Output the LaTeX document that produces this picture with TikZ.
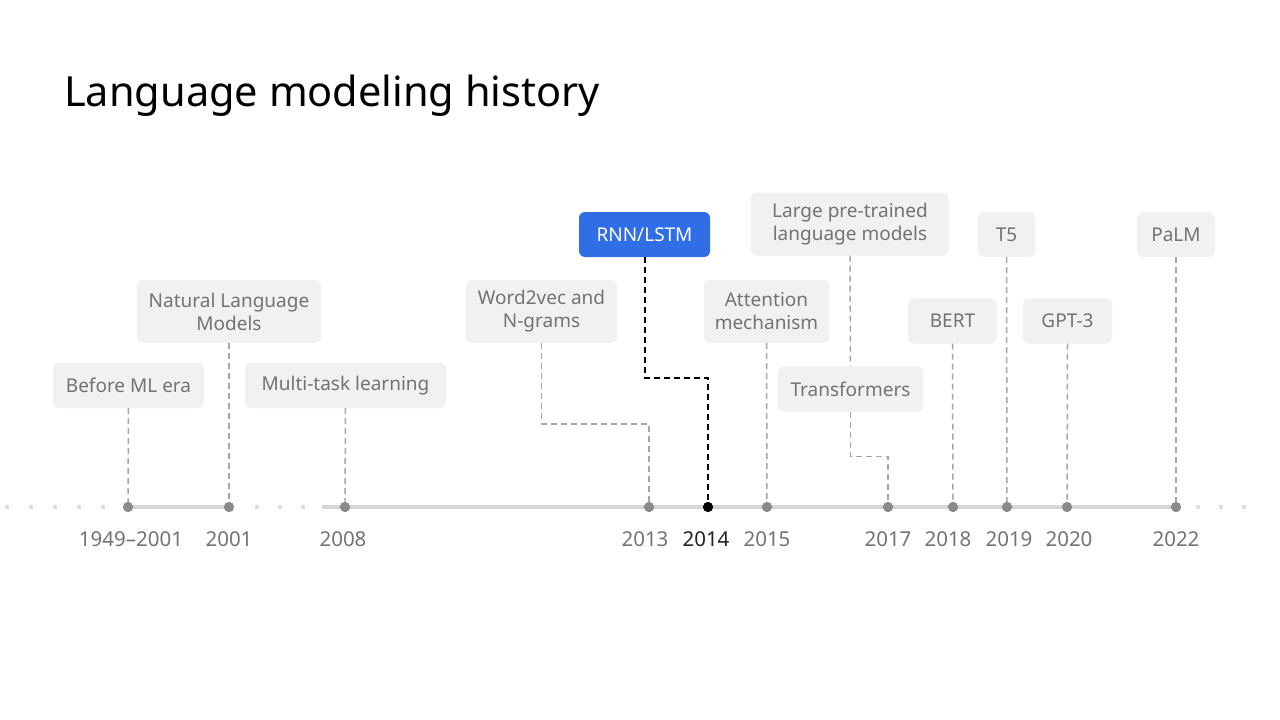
\documentclass[tikz,border=0pt]{standalone}
\usepackage{fontspec}
\setmainfont{Noto Sans}
\definecolor{boxgray}{HTML}{F0F1F3}
\definecolor{labelgray}{HTML}{737373}
\definecolor{axisgray}{HTML}{D6D6D6}
\definecolor{dotgray}{HTML}{8A8A8A}
\definecolor{dashgray}{HTML}{A6A6A6}
\definecolor{rnnblue}{HTML}{2F6EE6}
\definecolor{darktext}{HTML}{202124}
\tikzset{
  evbox/.style={fill=boxgray, rounded corners=6pt, text=labelgray, align=center,
    font=\fontsize{19}{23}\selectfont, inner sep=0pt, minimum height=45pt},
  tallbox/.style={evbox, minimum height=63pt},
  hotbox/.style={evbox, fill=rnnblue, text=white},
  yeardot/.style={circle, fill=dotgray, inner sep=0pt, minimum size=10pt},
  hotdot/.style={yeardot, fill=black},
  yearlabel/.style={text=labelgray, font=\fontsize{20.5}{24}\selectfont, inner sep=0pt},
  hotyear/.style={yearlabel, text=darktext},
  link/.style={draw=dashgray, line width=1.5pt, dash pattern=on 6pt off 4pt},
  hotlink/.style={draw=black, line width=2pt, dash pattern=on 6pt off 4pt},
  axisline/.style={draw=axisgray, line width=4pt}
}
\begin{document}
\begin{tikzpicture}[x=1pt,y=-1pt]
\useasboundingbox[fill=white] (0,0) rectangle (1280,720);
% title
\node[anchor=base west, inner sep=0pt, text=black, font=\fontsize{41.5}{48}\selectfont] (title) at (64,106) {Language modeling history};
% dotted gaps
\foreach \x in {7,31,55,79,103,257,280,303,1198,1221,1244}
  \fill[axisgray!80] (\x-2.3,504.7) rectangle (\x+2.3,509.3);
% axis solid parts
\draw[axisline] (128,507) -- (229,507);
\draw[axisline] (322,507) -- (1176,507);
% dots
\node[yeardot] (d1) at (128,507) {};
\node[yeardot] (d2) at (229,507) {};
\node[yeardot] (d3) at (345,507) {};
\node[yeardot] (d4) at (649,507) {};
\node[hotdot]  (d5) at (708,507) {};
\node[yeardot] (d6) at (767,507) {};
\node[yeardot] (d7) at (888,507) {};
\node[yeardot] (d8) at (953,507) {};
\node[yeardot] (d9) at (1007,507) {};
\node[yeardot] (d10) at (1067,507) {};
\node[yeardot] (d11) at (1176,507) {};
% year labels
\node[yearlabel] (y1) at (131,539) {1949–2001};
\node[yearlabel] (y2) at (229,539) {2001};
\node[yearlabel] (y3) at (343,539) {2008};
\node[yearlabel] (y4) at (645,539) {2013};
\node[hotyear]   (y5) at (706,539) {2014};
\node[yearlabel] (y6) at (767,539) {2015};
\node[yearlabel] (y7) at (888,539) {2017};
\node[yearlabel] (y8) at (948,539) {2018};
\node[yearlabel] (y9) at (1009,539) {2019};
\node[yearlabel] (y10) at (1069,539) {2020};
\node[yearlabel] (y11) at (1176,539) {2022};
% boxes
\node[evbox, minimum width=151pt] (before) at (128.5,385.5) {Before ML era};
\node[tallbox, minimum width=184pt] (nlm) at (229,311.5) {Natural Language\\Models};
\node[evbox, minimum width=201pt] (multi) at (345.5,385.5) {Multi-task learning};
\node[tallbox, minimum width=151pt] (w2v) at (541.5,311.5) {Word2vec and\\N-grams};
\node[hotbox, minimum width=131pt] (rnn) at (644.5,234.5) {RNN/LSTM};
\node[tallbox, minimum width=125pt] (attn) at (766.5,311.5) {Attention\\mechanism};
\node[tallbox, minimum width=198pt] (lplm) at (850,224) {Large pre-trained\\language models};
\node[evbox, minimum width=145pt] (trans) at (850.5,389) {Transformers};
\node[evbox, minimum width=57pt] (t5) at (1006.5,234.5) {T5};
\node[evbox, minimum width=89pt] (bert) at (952.5,321) {BERT};
\node[evbox, minimum width=89pt] (gpt) at (1067.5,321) {GPT-3};
\node[evbox, minimum width=78pt] (palm) at (1176,234.5) {PaLM};
% connectors
\draw[link] (before.south) -- (d1.center);
\draw[link] (nlm.south) -- (d2.center);
\draw[link] (multi.south) -- (d3.center);
\draw[link] (w2v.south) -- ++(0,81) -| (d4.center);
\draw[hotlink] (rnn.south) -- ++(0,121) -| (d5.center);
\draw[link] (attn.south) -- (d6.center);
\draw[link] (lplm.south) -- (trans.north);
\draw[link] (trans.south) -- ++(0,45) -| (d7.center);
\draw[link] (bert.south) -- (d8.center);
\draw[link] (t5.south) -- (d9.center);
\draw[link] (gpt.south) -- (d10.center);
\draw[link] (palm.south) -- (d11.center);
% redraw dots on top
\foreach \n in {d1,d2,d3,d4,d6,d7,d8,d9,d10,d11}
  \fill[dotgray] (\n) circle (5pt);
\fill[black] (d5) circle (5pt);
\end{tikzpicture}
\end{document}
